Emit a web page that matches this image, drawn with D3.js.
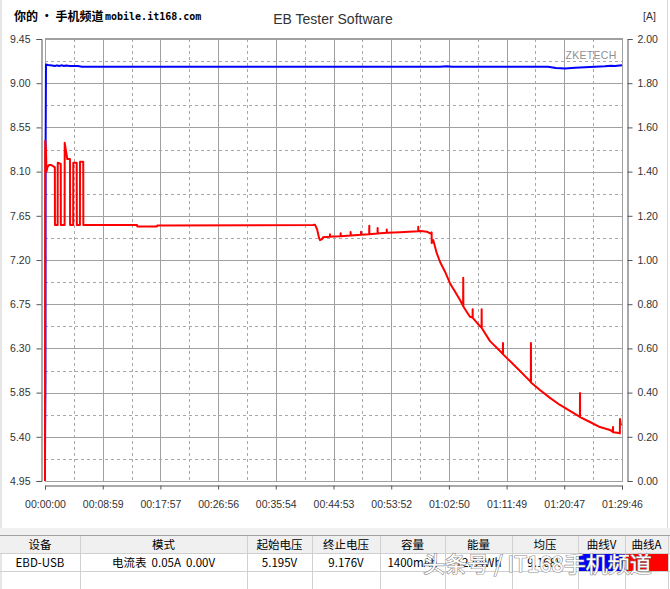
<!DOCTYPE html>
<html>
<head>
<meta charset="utf-8">
<script src="https://cdn.jsdelivr.net/npm/d3@7"></script>
<style>
  html, body { margin: 0; padding: 0; background: #ffffff; }
  svg { display: block; }
  text { font-family: "Liberation Sans", Arial, sans-serif; }
</style>
</head>
<body>
<svg id="chart" width="670" height="589"></svg>
<script>
// ---------------- DATA ----------------
const timeTickSeconds = [0, 539, 1077, 1616, 2154, 2693, 3232, 3770, 4309, 4847, 5386];
const timeTickLabels = ["00:00:00","00:08:59","00:17:57","00:26:56","00:35:54","00:44:53","00:53:52","01:02:50","01:11:49","01:20:47","01:29:46"];
const voltTicks = [4.95, 5.40, 5.85, 6.30, 6.75, 7.20, 7.65, 8.10, 8.55, 9.00, 9.45];
const ampTicks = [0.00, 0.20, 0.40, 0.60, 0.80, 1.00, 1.20, 1.40, 1.60, 1.80, 2.00];

// Voltage curve (blue, left axis): [seconds, volts]
const voltTime  = [0, 4, 6, 9, 28, 65, 93, 112, 131, 159, 177, 196, 233, 308, 345, 980, 1913, 2847, 3687, 3752, 3799, 4247, 4695, 4770, 4854, 4947, 5087, 5227, 5283, 5320, 5386];
const voltValue = [5.195, 5.96, 8.40, 9.19, 9.185, 9.18, 9.175, 9.182, 9.175, 9.182, 9.175, 9.18, 9.175, 9.175, 9.168, 9.168, 9.168, 9.168, 9.168, 9.172, 9.168, 9.168, 9.168, 9.155, 9.15, 9.158, 9.165, 9.172, 9.178, 9.175, 9.182];

// Current curve (red, right axis): [seconds, amps]
const ampTime = [
  0, 2, 9, 14, 23, 37, 56, 75, 89, 92, 93,
  118, 119, 147, 148,
  183, 184, 208, 233, 234,
  263, 264, 296, 297,
  326, 327, 357, 358,
  859, 862, 1045, 1048, 2502, 2520, 2539, 2558, 2567, 2586, 2595,
  2659, 2660, 2661, 2688, 2759, 2760, 2761, 2852, 2853, 2854, 2949, 2950, 2951,
  3026, 3027, 3028, 3104, 3105, 3106, 3189, 3190, 3191, 3314, 3483, 3484, 3485, 3500,
  3528, 3563, 3594, 3608, 3609, 3610, 3624, 3656, 3687, 3734, 3780, 3827, 3874, 3903, 3904, 3905,
  3936, 3967, 3991, 3992, 3993, 4061, 4075, 4076, 4077, 4154, 4247, 4274, 4275, 4276, 4340, 4434,
  4527, 4535, 4536, 4537, 4620, 4714, 4807, 4900, 4993, 4994, 4995, 5087, 5180, 5274, 5301, 5302, 5303,
  5358, 5366, 5367, 5376
];
const ampValue = [
  0.00, 1.54, 1.50, 1.40, 1.42, 1.43, 1.43, 1.425, 1.42, 1.42, 1.158,
  1.158, 1.44, 1.435, 1.158,
  1.158, 1.53, 1.457, 1.457, 1.158,
  1.158, 1.44, 1.44, 1.158,
  1.158, 1.445, 1.445, 1.158,
  1.158, 1.152, 1.152, 1.156, 1.158, 1.160, 1.14, 1.10, 1.09, 1.095, 1.103,
  1.105, 1.116, 1.105, 1.106, 1.108, 1.121, 1.108, 1.111, 1.127, 1.111, 1.114, 1.128, 1.114,
  1.117, 1.155, 1.117, 1.120, 1.145, 1.120, 1.123, 1.138, 1.123, 1.126, 1.130, 1.150, 1.130, 1.131,
  1.130, 1.128, 1.121, 1.118, 1.125, 1.077, 1.090, 1.032, 0.992, 0.947, 0.895, 0.857, 0.819, 0.792, 0.920, 0.790,
  0.766, 0.743, 0.740, 0.777, 0.738, 0.700, 0.694, 0.777, 0.692, 0.633, 0.588, 0.575, 0.624, 0.573, 0.543, 0.498,
  0.452, 0.448, 0.624, 0.446, 0.412, 0.376, 0.344, 0.317, 0.290, 0.398, 0.289, 0.267, 0.244, 0.231, 0.222, 0.244, 0.221,
  0.217, 0.215, 0.281, 0.25
];

const tableHeaders = ["设备", "模式", "起始电压", "终止电压", "容量", "能量", "均压", "曲线V", "曲线A"];
const tableRow = ["EBD-USB", "电流表  0.05A  0.00V", "5.195V", "9.176V", "1400mAh", "12.84Wh", "9.168V", "", ""];
const seriesColors = ["#0000ff", "#ff0000"];

// ---------------- CHART ----------------
const svg = d3.select("#chart");
const W = 670, H = 589;
const plot = {left: 45, right: 622, top: 39, bottom: 481};

svg.append("rect").attr("x", 0).attr("y", 0).attr("width", W).attr("height", H).attr("fill", "#ffffff");
svg.append("rect").attr("x", 0).attr("y", 0).attr("width", 2).attr("height", H).attr("fill", "#e6e6e6");
svg.append("line").attr("x1", 667.5).attr("x2", 667.5).attr("y1", 0).attr("y2", 528).attr("stroke", "#d8d8d8");

const x = d3.scaleLinear().domain([0, 5386]).range([plot.left, plot.right]);
const yV = d3.scaleLinear().domain([4.95, 9.45]).range([plot.bottom, plot.top]);
const yA = d3.scaleLinear().domain([0, 2]).range([plot.bottom, plot.top]);

// grid
const grid = svg.append("g");
const midX = timeTickSeconds.slice(1).map((d, i) => (d + timeTickSeconds[i]) / 2);
const midV = voltTicks.slice(1).map((d, i) => (d + voltTicks[i]) / 2);
grid.selectAll(".vmid").data(midX).join("line")
  .attr("x1", d => Math.round(x(d)) + 0.5).attr("x2", d => Math.round(x(d)) + 0.5)
  .attr("y1", plot.top).attr("y2", plot.bottom)
  .attr("stroke", "#a8a8a8").attr("stroke-dasharray", "3,3");
grid.selectAll(".hmid").data(midV).join("line")
  .attr("y1", d => Math.round(yV(d)) + 0.5).attr("y2", d => Math.round(yV(d)) + 0.5)
  .attr("x1", plot.left).attr("x2", plot.right)
  .attr("stroke", "#a8a8a8").attr("stroke-dasharray", "3,3");
grid.selectAll(".vs").data(timeTickSeconds).join("line")
  .attr("x1", d => Math.round(x(d)) + 0.5).attr("x2", d => Math.round(x(d)) + 0.5)
  .attr("y1", plot.top).attr("y2", plot.bottom)
  .attr("stroke", "#a0a0a0");
grid.selectAll(".hs").data(voltTicks).join("line")
  .attr("y1", d => Math.round(yV(d)) + 0.5).attr("y2", d => Math.round(yV(d)) + 0.5)
  .attr("x1", plot.left).attr("x2", plot.right)
  .attr("stroke", "#a0a0a0");
svg.append("rect").attr("x", plot.left + 0.5).attr("y", plot.top - 0.5)
  .attr("width", plot.right - plot.left).attr("height", plot.bottom - plot.top + 1)
  .attr("fill", "none").attr("stroke", "#a0a0a0");

// axes
function styleAxis(g) {
  g.selectAll("path").attr("stroke", "#555");
  g.selectAll("line").attr("stroke", "#555");
  g.selectAll("text").attr("fill", "#333").style("font-size", "10.5px").style("font-family", "'Liberation Sans', Arial, sans-serif");
}
svg.append("g").attr("transform", "translate(41.5,0)")
  .call(d3.axisLeft(yV).tickValues(voltTicks).tickSize(5).tickPadding(6).tickFormat(d => d.toFixed(2)))
  .call(styleAxis);
svg.append("g").attr("transform", "translate(627.5,0)")
  .call(d3.axisRight(yA).tickValues(ampTicks).tickSize(5).tickPadding(5).tickFormat(d => d.toFixed(2)))
  .call(styleAxis);
svg.append("g").attr("transform", "translate(0,485.5)")
  .call(d3.axisBottom(x).tickValues(timeTickSeconds).tickSize(4).tickPadding(11).tickFormat((d, i) => timeTickLabels[i]))
  .call(styleAxis);

// lines
const lineV = d3.line().x((d, i) => x(voltTime[i])).y((d, i) => yV(voltValue[i]));
const lineA = d3.line().x((d, i) => x(ampTime[i])).y((d, i) => yA(ampValue[i]));
svg.append("path").attr("d", lineV(voltValue)).attr("fill", "none")
  .attr("stroke", seriesColors[0]).attr("stroke-width", 2).attr("stroke-linejoin", "round");
svg.append("path").attr("d", lineA(ampValue)).attr("fill", "none")
  .attr("stroke", seriesColors[1]).attr("stroke-width", 2).attr("stroke-linejoin", "round");

// texts
svg.append("text").attr("x", 333).attr("y", 24).attr("text-anchor", "middle")
  .attr("fill", "#333").style("font-size", "14px").text("EB Tester Software");
svg.append("text").attr("x", 643).attr("y", 20)
  .attr("fill", "#333").style("font-size", "10.5px").text("[A]");
svg.append("text").attr("x", 591).attr("y", 59).attr("text-anchor", "middle")
  .attr("fill", "#909090").style("font-size", "10.5px").style("letter-spacing", "0.3px").text("ZKETECH");
svg.append("text").attr("x", 14).attr("y", 21)
  .attr("fill", "#000").attr("stroke", "#fff").attr("stroke-width", 2).attr("paint-order", "stroke")
  .style("font-family", "'Noto Sans CJK SC', sans-serif").style("font-weight", "bold").style("font-size", "12px")
  .text("你的 • 手机频道");
svg.append("text").attr("x", 105).attr("y", 20)
  .attr("fill", "#000").attr("stroke", "#fff").attr("stroke-width", 2).attr("paint-order", "stroke")
  .style("font-family", "'DejaVu Sans Mono', monospace").style("font-weight", "bold").style("font-size", "10px")
  .text("mobile.it168.com");

// table
const colEdges = [0, 80, 247, 312, 380, 445, 512, 578, 625, 668];
const tbl = svg.append("g");
tbl.append("rect").attr("x", 0).attr("y", 528).attr("width", W).attr("height", 7).attr("fill", "#f0f0f0");
tbl.append("rect").attr("x", 0).attr("y", 535).attr("width", W).attr("height", 18).attr("fill", "#f0f0f0");
tbl.append("line").attr("x1", 0).attr("x2", W).attr("y1", 535.5).attr("y2", 535.5).attr("stroke", "#a0a0a0");
tbl.append("line").attr("x1", 0).attr("x2", W).attr("y1", 553.5).attr("y2", 553.5).attr("stroke", "#d0d0d0");
tbl.append("line").attr("x1", 0).attr("x2", W).attr("y1", 571.5).attr("y2", 571.5).attr("stroke", "#d0d0d0");
tbl.append("rect").attr("x", colEdges[7] + 1).attr("y", 554).attr("width", colEdges[8] - colEdges[7] - 1).attr("height", 17).attr("fill", seriesColors[0]);
tbl.append("rect").attr("x", colEdges[8] + 1).attr("y", 554).attr("width", colEdges[9] - colEdges[8] - 1).attr("height", 17).attr("fill", seriesColors[1]);
tbl.selectAll(".cb").data(colEdges.slice(1)).join("line")
  .attr("x1", d => d + 0.5).attr("x2", d => d + 0.5).attr("y1", 536).attr("y2", H)
  .attr("stroke", "#d0d0d0");
tbl.selectAll(".th").data(tableHeaders).join("text")
  .attr("x", (d, i) => (colEdges[i] + colEdges[i + 1]) / 2).attr("y", 549)
  .attr("text-anchor", "middle").attr("fill", "#000")
  .style("font-family", "'Noto Sans CJK SC', sans-serif").style("font-size", "11.5px").text(d => d);
tbl.selectAll(".td").data(tableRow).join("text")
  .attr("x", (d, i) => (colEdges[i] + colEdges[i + 1]) / 2).attr("y", 567)
  .attr("text-anchor", "middle").attr("fill", "#000")
  .style("font-family", "'Noto Sans CJK SC', 'Liberation Sans', sans-serif").style("font-size", "11.5px")
  .style("white-space", "pre").text(d => d);

// watermark
svg.append("text").attr("x", 423).attr("y", 572)
  .attr("fill", "#ffffff").attr("stroke", "#8a8a8a").attr("stroke-width", 1.2).attr("paint-order", "stroke")
  .style("font-family", "'Noto Sans CJK SC', sans-serif").style("font-size", "22px")
  .text("头条号 / IT168手机频道");
</script>
</body>
</html>
